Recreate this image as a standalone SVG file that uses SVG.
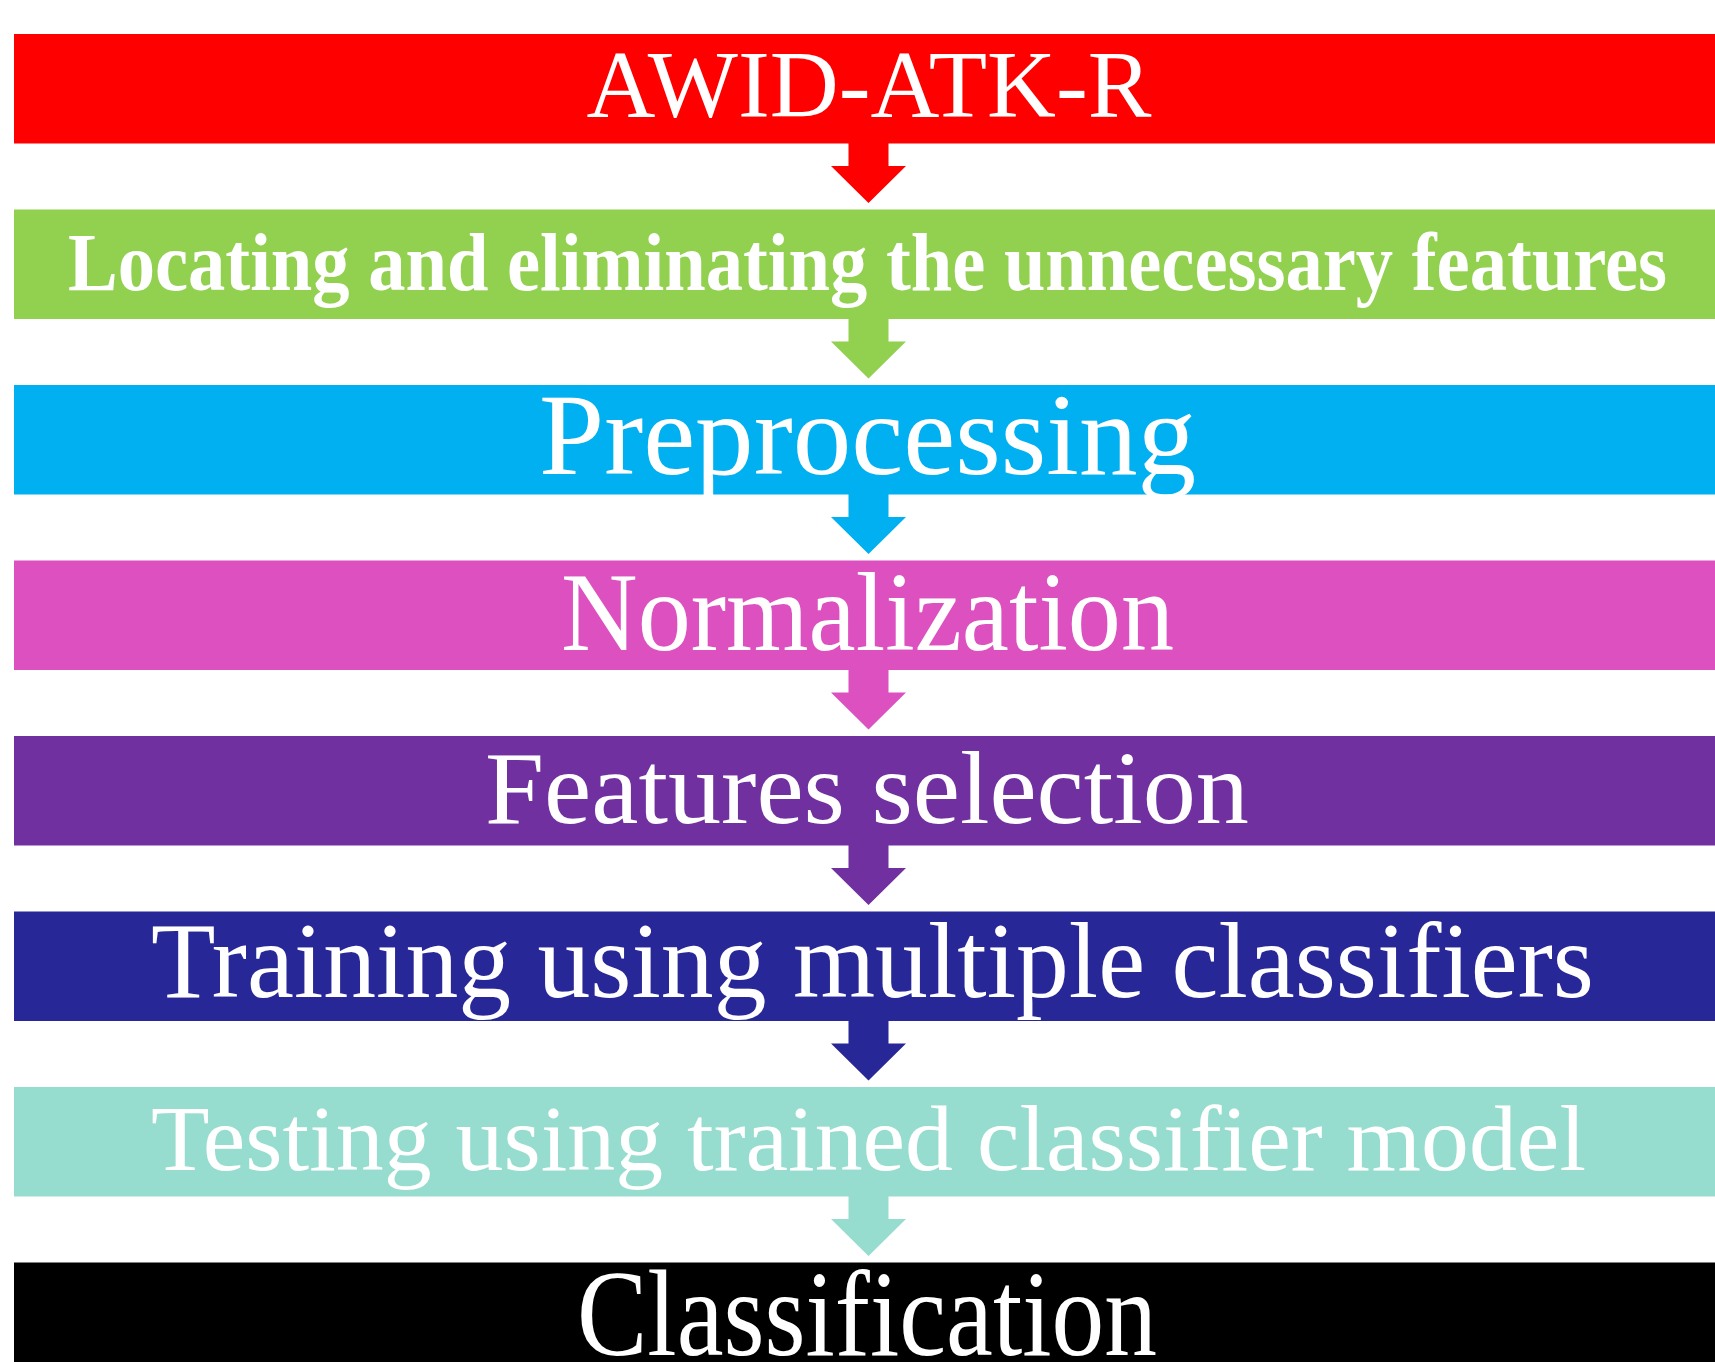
<svg xmlns="http://www.w3.org/2000/svg" xmlns:xlink="http://www.w3.org/1999/xlink" width="1715" height="1362" viewBox="0 0 1715 1362">
  <style>
    .bar { stroke: none; }
    .lbl { font-family: "Liberation Serif", "Times New Roman", serif; fill: #ffffff; text-anchor: middle; }
    .bold { font-weight: bold; }
  </style>
  <defs>
    <path id="arrow" d="M848.5,0 L888.5,0 L888.5,23 L906,23 L868.5,60 L831,23 L848.5,23 Z"/>
  </defs>
  <rect x="0" y="0" width="1715" height="1362" fill="#ffffff"/>

  <g id="connectors">
    <use xlink:href="#arrow" href="#arrow" transform="translate(0,143)" fill="#ff0000"/>
    <use xlink:href="#arrow" href="#arrow" transform="translate(0,318.5)" fill="#92d050"/>
    <use xlink:href="#arrow" href="#arrow" transform="translate(0,494)" fill="#00b0f0"/>
    <use xlink:href="#arrow" href="#arrow" transform="translate(0,669.5)" fill="#dc50c0"/>
    <use xlink:href="#arrow" href="#arrow" transform="translate(0,845)" fill="#7030a0"/>
    <use xlink:href="#arrow" href="#arrow" transform="translate(0,1020.5)" fill="#282797"/>
    <use xlink:href="#arrow" href="#arrow" transform="translate(0,1196)" fill="#97ddcf"/>
  </g>

  <g id="node-awid">
    <rect class="bar" x="14" y="34" width="1701" height="109.5" fill="#ff0000"/>
    <text class="lbl" x="869" y="117" font-size="95" textLength="565" lengthAdjust="spacingAndGlyphs">AWID-ATK-R</text>
  </g>
  <g id="node-locating">
    <rect class="bar" x="14" y="209.5" width="1701" height="109.5" fill="#92d050"/>
    <text class="lbl bold" x="867.5" y="290" font-size="82" textLength="1599" lengthAdjust="spacingAndGlyphs">Locating and eliminating the unnecessary features</text>
  </g>
  <g id="node-preprocessing">
    <rect class="bar" x="14" y="385" width="1701" height="109.5" fill="#00b0f0"/>
    <text class="lbl" x="867.5" y="474" font-size="116" textLength="657" lengthAdjust="spacingAndGlyphs">Preprocessing</text>
  </g>
  <g id="node-normalization">
    <rect class="bar" x="14" y="560.5" width="1701" height="109.5" fill="#dc50c0"/>
    <text class="lbl" x="867.5" y="650" font-size="112" textLength="613" lengthAdjust="spacingAndGlyphs">Normalization</text>
  </g>
  <g id="node-features">
    <rect class="bar" x="14" y="736" width="1701" height="109.5" fill="#7030a0"/>
    <text class="lbl" x="867" y="823" font-size="104" textLength="764" lengthAdjust="spacingAndGlyphs">Features selection</text>
  </g>
  <g id="node-training">
    <rect class="bar" x="14" y="911.5" width="1701" height="109.5" fill="#282797"/>
    <text class="lbl" x="872.5" y="997" font-size="107" textLength="1443" lengthAdjust="spacingAndGlyphs">Training using multiple classifiers</text>
  </g>
  <g id="node-testing">
    <rect class="bar" x="14" y="1087" width="1701" height="109.5" fill="#97ddcf"/>
    <text class="lbl" x="868.5" y="1170" font-size="94" textLength="1435" lengthAdjust="spacingAndGlyphs">Testing using trained classifier model</text>
  </g>
  <g id="node-classification">
    <rect class="bar" x="14" y="1262.5" width="1701" height="109.5" fill="#000000"/>
    <text class="lbl" x="867" y="1355" font-size="122" textLength="580" lengthAdjust="spacingAndGlyphs">Classification</text>
  </g>
</svg>
